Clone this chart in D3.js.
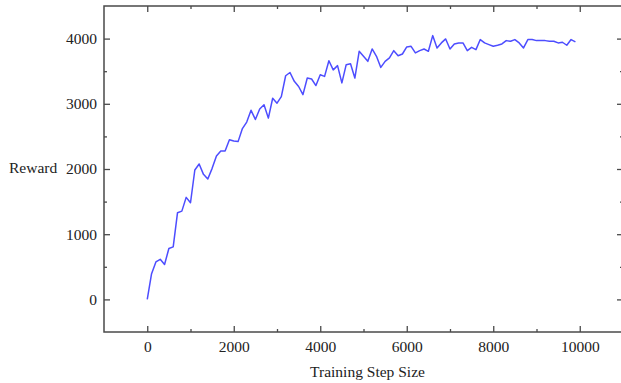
<!DOCTYPE html>
<html><head><meta charset="utf-8">
<script src="https://cdn.jsdelivr.net/npm/d3@7"></script>
<style>body{margin:0;background:#fff;}svg{display:block;}</style>
</head><body>
<svg id="c" width="621" height="383"></svg>
<script>
const steps = d3.range(0, 10000, 100);
const rewards = [0,395,575,615,535,780,805,1330,1354,1565,
1482,1985,2077,1918,1846,2010,2200,2277,2277,2450,
2430,2420,2620,2720,2900,2760,2920,2985,2780,3085,
3010,3110,3430,3480,3345,3265,3140,3395,3380,3280,
3445,3420,3660,3520,3585,3320,3600,3615,3395,3805,
3728,3651,3841,3728,3558,3651,3703,3815,3738,3764,
3872,3882,3780,3815,3841,3805,4046,3857,3934,3995,
3841,3918,3934,3934,3815,3866,3831,3985,3934,3908,
3882,3898,3918,3969,3959,3985,3934,3857,3985,3985,
3969,3969,3969,3960,3960,3934,3944,3898,3985,3950];
const xTicks = [0,2000,4000,6000,8000,10000];
const yTicks = [0,1000,2000,3000,4000];
const xLabel = "Training Step Size";
const yLabel = "Reward";

const svg = d3.select("#c");
const L=104, R=623, T=6, B=332;
const x = d3.scaleLinear().domain([-1000,11000]).range([L,R]);
const y = d3.scaleLinear().domain([-500,4500]).range([B,T]);
const axisColor = "#4a4a4a";
const font = "'Liberation Serif','Times New Roman',serif";
const fs = "15.5px";

const g = svg.append("g");
// frame
g.append("rect").attr("x",L).attr("y",T).attr("width",R-L).attr("height",B-T)
 .attr("fill","none").attr("stroke",axisColor).attr("stroke-width",1.5);

const xMinor = d3.range(1000, 11000, 2000);
const yMinor = d3.range(500, 4500, 1000);

function styleAxis(sel){
  sel.select(".domain").remove();
  sel.selectAll(".tick line").attr("stroke",axisColor).attr("stroke-width",1.3);
  sel.selectAll(".tick text").attr("fill","#222").style("font-family",font).style("font-size",fs);
}
// bottom major
g.append("g").attr("transform",`translate(0,${B})`)
 .call(d3.axisBottom(x).tickValues(xTicks).tickSizeInner(-6).tickSizeOuter(0).tickPadding(9).tickFormat(d3.format("d")))
 .call(styleAxis);
g.append("g").attr("transform",`translate(0,${B})`)
 .call(d3.axisBottom(x).tickValues(xMinor).tickSizeInner(-3).tickSizeOuter(0).tickFormat(""))
 .call(styleAxis);
// top
g.append("g").attr("transform",`translate(0,${T})`)
 .call(d3.axisTop(x).tickValues(xTicks).tickSizeInner(-6).tickSizeOuter(0).tickFormat(""))
 .call(styleAxis);
g.append("g").attr("transform",`translate(0,${T})`)
 .call(d3.axisTop(x).tickValues(xMinor).tickSizeInner(-3).tickSizeOuter(0).tickFormat(""))
 .call(styleAxis);
// left
g.append("g").attr("transform",`translate(${L},0)`)
 .call(d3.axisLeft(y).tickValues(yTicks).tickSizeInner(-6).tickSizeOuter(0).tickPadding(7).tickFormat(d3.format("d")))
 .call(styleAxis);
g.append("g").attr("transform",`translate(${L},0)`)
 .call(d3.axisLeft(y).tickValues(yMinor).tickSizeInner(-3).tickSizeOuter(0).tickFormat(""))
 .call(styleAxis);
// right
g.append("g").attr("transform",`translate(${R},0)`)
 .call(d3.axisRight(y).tickValues(yTicks).tickSizeInner(-6).tickSizeOuter(0).tickFormat(""))
 .call(styleAxis);
g.append("g").attr("transform",`translate(${R},0)`)
 .call(d3.axisRight(y).tickValues(yMinor).tickSizeInner(-3).tickSizeOuter(0).tickFormat(""))
 .call(styleAxis);

// line
const data = steps.map((s,i)=>({s, r:rewards[i]}));
svg.append("path").datum(data)
 .attr("fill","none").attr("stroke","#4d4dff").attr("stroke-width",1.5)
 .attr("stroke-linejoin","round")
 .attr("d", d3.line().x(d=>x(d.s)).y(d=>y(d.r)));

// labels
svg.append("text").attr("x",367.5).attr("y",377).attr("text-anchor","middle")
 .style("font-family",font).style("font-size",fs).attr("fill","#222").text(xLabel);
svg.append("text").attr("x",9).attr("y",173).attr("text-anchor","start")
 .style("font-family",font).style("font-size",fs).attr("fill","#222").text(yLabel);
</script>
</body></html>
